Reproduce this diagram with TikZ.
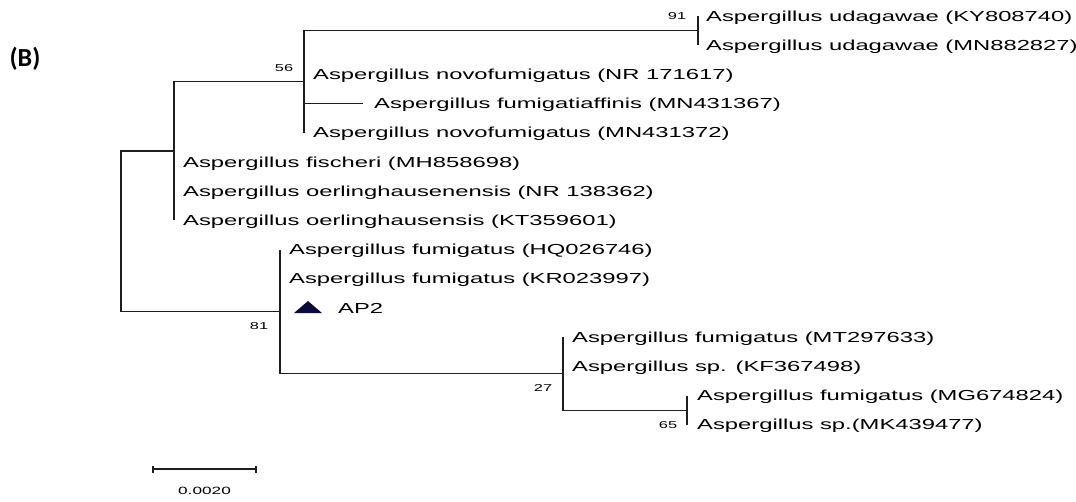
\documentclass[tikz,border=0pt]{standalone}
\usepackage{fontspec}
\setmainfont{Liberation Sans}[FakeStretch=1.64]
\newfontfamily\panelfont{Carlito}
\definecolor{branchgray}{RGB}{30,30,30}
\definecolor{marknavy}{RGB}{10,10,62}

\begin{document}
\begin{tikzpicture}[x=1pt,y=-1pt,
  branch/.style={line width=1.1pt, draw=branchgray},
  leaf/.style={anchor=base west, inner sep=0pt, font=\fontsize{14.5}{14.5}\selectfont},
  boot/.style={inner sep=0pt, font=\fontsize{10}{10}\selectfont},
  scalelab/.style={inner sep=0pt, font=\fontsize{10.5}{10.5}\selectfont},
  panel/.style={inner sep=0pt, font=\panelfont\fontsize{26}{26}\selectfont\bfseries},
]
\useasboundingbox (0,0) rectangle (1076,501);

% panel letter
\node[panel] (panelB) at (25,59) {(B)};

% internal nodes of the tree
\coordinate (root) at (121,231.3);
\coordinate (nA)   at (174,151);
\coordinate (n56)  at (304,81.7);
\coordinate (n91)  at (698,30.6);
\coordinate (n81)  at (280,311.65);
\coordinate (n27)  at (563,373.7);
\coordinate (n65)  at (687,410.2);

% leaf tips
\coordinate (t1)  at (698,16);
\coordinate (t2)  at (698,45.2);
\coordinate (t3)  at (304,74.4);
\coordinate (t4)  at (363,103.6);
\coordinate (t5)  at (304,132.8);
\coordinate (t6)  at (174,162);
\coordinate (t7)  at (174,191.2);
\coordinate (t8)  at (174,220.4);
\coordinate (t9)  at (280,249.6);
\coordinate (t10) at (280,278.8);
\coordinate (t11) at (280,308);
\coordinate (t12) at (563,337.2);
\coordinate (t13) at (563,366.4);
\coordinate (t14) at (687,395.6);
\coordinate (t15) at (687,424.8);

% branches (rectangular cladogram)
\draw[branch] (root) |- (nA);
\draw[branch] (root) |- (n81);
\draw[branch] (nA) |- (n56);
\draw[branch] (nA) |- (t6);
\draw[branch] (nA) |- (t7);
\draw[branch] (nA) |- (t8);
\draw[branch] (n56) |- (n91);
\draw[branch] (n56) |- (t3);
\draw[branch] (n56) |- (t4);
\draw[branch] (n56) |- (t5);
\draw[branch] (n91) |- (t1);
\draw[branch] (n91) |- (t2);
\draw[branch] (n81) |- (t9);
\draw[branch] (n81) |- (n27);
\draw[branch] (n27) |- (t12);
\draw[branch] (n27) |- (n65);
\draw[branch] (n65) |- (t14);
\draw[branch] (n65) |- (t15);

% taxon labels
\node[leaf] (L1)  at ([shift={(8,5)}]t1)  {Aspergillus udagawae (KY808740)};
\node[leaf] (L2)  at ([shift={(8,5)}]t2)  {Aspergillus udagawae (MN882827)};
\node[leaf] (L3)  at ([shift={(9,5)}]t3)  {Aspergillus novofumigatus (NR 171617)};
\node[leaf] (L4)  at ([shift={(11,5)}]t4) {Aspergillus fumigatiaffinis (MN431367)};
\node[leaf] (L5)  at ([shift={(9,5)}]t5)  {Aspergillus novofumigatus (MN431372)};
\node[leaf] (L6)  at ([shift={(9,5)}]t6)  {Aspergillus fischeri (MH858698)};
\node[leaf] (L7)  at ([shift={(9,5)}]t7)  {Aspergillus oerlinghausenensis (NR 138362)};
\node[leaf] (L8)  at ([shift={(9,5)}]t8)  {Aspergillus oerlinghausensis (KT359601)};
\node[leaf] (L9)  at ([shift={(9,5)}]t9)  {Aspergillus fumigatus (HQ026746)};
\node[leaf] (L10) at ([shift={(9,5)}]t10) {Aspergillus fumigatus (KR023997)};
\node[leaf] (L11) at ([shift={(58,5)}]t11) {AP2};
\node[leaf] (L12) at ([shift={(9,5)}]t12) {Aspergillus fumigatus (MT297633)};
\node[leaf] (L13) at ([shift={(9,5)}]t13) {Aspergillus sp. (KF367498)};
\node[leaf] (L14) at ([shift={(10,5)}]t14) {Aspergillus fumigatus (MG674824)};
\node[leaf] (L15) at ([shift={(10,5)}]t15) {Aspergillus sp.(MK439477)};

% marker of the studied isolate
\fill[marknavy] ([shift={(14,5)}]t11) -- ([shift={(42,5)}]t11) -- ([shift={(28,-7)}]t11) -- cycle;

% bootstrap values
\node[boot] (b56) at ([shift={(-20,-13.7)}]n56) {56};
\node[boot] (b91) at ([shift={(-21,-14.6)}]n91) {91};
\node[boot] (b81) at ([shift={(-21,14.4)}]n81) {81};
\node[boot] (b27) at ([shift={(-20,14.3)}]n27) {27};
\node[boot] (b65) at ([shift={(-19,14.8)}]n65) {65};

% scale bar
\coordinate (sbL) at (153,469);
\coordinate (sbR) at (256,469);
\draw[branch] (sbL) -- (sbR);
\draw[branch] ([yshift=-3.5]sbL) -- ([yshift=3.5]sbL);
\draw[branch] ([yshift=-3.5]sbR) -- ([yshift=3.5]sbR);
\node[scalelab] (sbLab) at (204.5,491) {0.0020};
\end{tikzpicture}
\end{document}
